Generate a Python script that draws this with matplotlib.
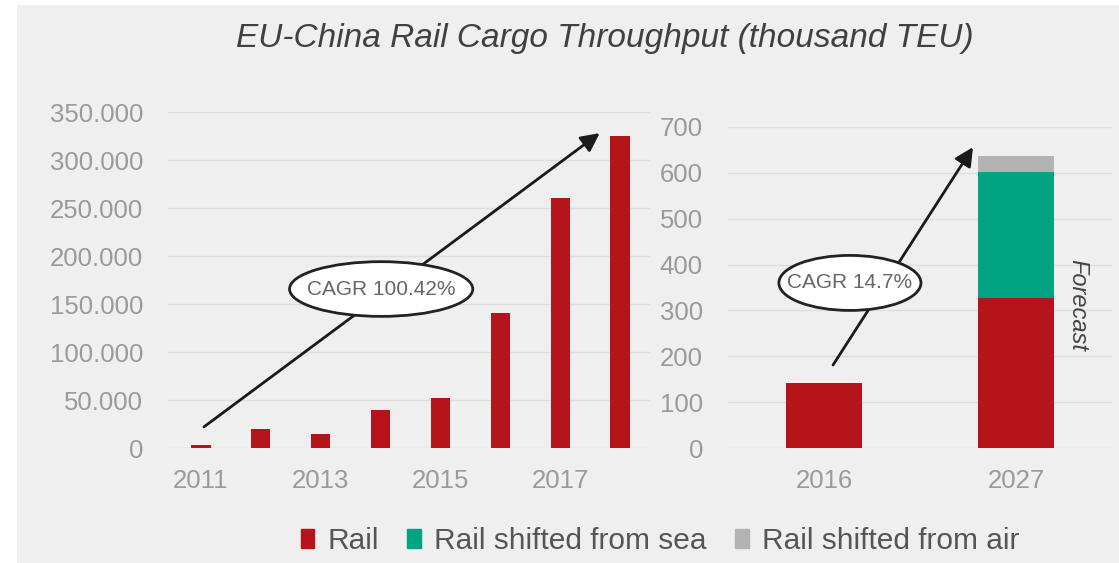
import numpy as np
import matplotlib.pyplot as plt
from matplotlib.patches import Ellipse, Patch, Rectangle

plt.rcParams["font.family"] = ["Liberation Sans", "DejaVu Sans"]

# historic rail throughput (left panel)
years = [2011, 2012, 2013, 2014, 2015, 2016, 2017, 2018]
rail_hist = [3000, 20000, 15000, 40000, 52000, 141000, 260000, 325000]
left_xticks = [2011, 2013, 2015, 2017]
left_yticks = [0, 50000, 100000, 150000, 200000, 250000, 300000, 350000]

# 2016 vs 2027 forecast (right panel)
periods = ["2016", "2027"]
rail = [142, 327]
rail_sea = [0, 275]
rail_air = [0, 35]
right_yticks = [0, 100, 200, 300, 400, 500, 600, 700]

RED = "#b5141a"
TEAL = "#00a382"
GREY = "#b3b3b3"
BG = "#efefef"
GRID = "#dedede"
TICK = "#9a9a9a"

fig = plt.figure(figsize=(11.19, 5.63), dpi=100, facecolor="white")
fig.patches.append(Rectangle((17 / 1119, 0), 1 - 17 / 1119, 1 - 5 / 563,
                             transform=fig.transFigure, facecolor=BG,
                             edgecolor="none", zorder=-10))

ax1 = fig.add_axes([168 / 1119, 115 / 563, 482 / 1119, 336 / 563])
ax2 = fig.add_axes([728 / 1119, 115 / 563, 384 / 1119, 321 / 563])

for ax in (ax1, ax2):
    ax.set_facecolor("none")
    for s in ax.spines.values():
        s.set_visible(False)
    ax.tick_params(length=0, labelsize=18.5, labelcolor=TICK)
    ax.tick_params(axis="y", pad=18)
    ax.tick_params(axis="x", pad=15)
    ax.grid(axis="y", color=GRID, linewidth=1)
    ax.set_axisbelow(True)

# left panel
ax1.bar(years, rail_hist, width=0.32, color=RED)
ax1.set_xlim(2010.45, 2018.5)
ax1.set_ylim(0, 350000)
ax1.set_xticks(left_xticks)
ax1.set_xticklabels([str(y) for y in left_xticks])
ax1.set_yticks(left_yticks)
ax1.set_yticklabels([f"{v:,.0f}".replace(",", ".") for v in left_yticks])

ax1.annotate("", xy=(2017.66, 328000), xytext=(2011.05, 22000),
             arrowprops=dict(arrowstyle="-|>", color="#1a1a1a", lw=2,
                             mutation_scale=28, shrinkA=0, shrinkB=0),
             zorder=4)
ax1.add_patch(Ellipse((2014.01, 165600), 3.06, 57000, facecolor="white",
                      edgecolor="#222222", lw=2, zorder=5))
ax1.text(2014.01, 165600, "CAGR 100.42%", ha="center", va="center",
         fontsize=15, color="#666666", zorder=6)

# right panel
x = np.arange(len(periods))
ax2.bar(x, rail, width=0.4, color=RED, label="Rail")
ax2.bar(x, rail_sea, width=0.4, bottom=rail, color=TEAL,
        label="Rail shifted from sea")
ax2.bar(x, rail_air, width=0.4, bottom=np.add(rail, rail_sea), color=GREY,
        label="Rail shifted from air")
ax2.set_xlim(-0.5, 1.5)
ax2.set_ylim(0, 700)
ax2.set_xticks(x)
ax2.set_xticklabels(periods)
ax2.set_yticks(right_yticks)
ax2.set_yticklabels([str(v) for v in right_yticks])

ax2.annotate("", xy=(0.776, 656), xytext=(0.047, 181),
             arrowprops=dict(arrowstyle="-|>", color="#1a1a1a", lw=2,
                             mutation_scale=28, shrinkA=0, shrinkB=0),
             zorder=4)
ax2.add_patch(Ellipse((0.135, 360), 0.74, 120, facecolor="white",
                      edgecolor="#222222", lw=2, zorder=5))
ax2.text(0.135, 360, "CAGR 14.7%", ha="center", va="center",
         fontsize=15, color="#666666", zorder=6)
ax2.text(1.323, 312, "Forecast", rotation=270, ha="center", va="center",
         fontsize=17, style="italic", color="#444444")

fig.text(605 / 1119, 1 - 38 / 563, "EU-China Rail Cargo Throughput (thousand TEU)",
         ha="center", va="center", fontsize=24, style="italic", color="#404040")

handles = [Patch(color=RED), Patch(color=TEAL), Patch(color=GREY)]
labels = ["Rail", "Rail shifted from sea", "Rail shifted from air"]
fig.legend(handles, labels, loc="center", bbox_to_anchor=(660 / 1119, 1 - 541 / 563),
           ncol=3, frameon=False, fontsize=21.5, labelcolor="#555555",
           handlelength=0.45, handleheight=0.6, handletextpad=0.45,
           columnspacing=0.95)

plt.savefig("out.png", dpi=100, facecolor=fig.get_facecolor())
